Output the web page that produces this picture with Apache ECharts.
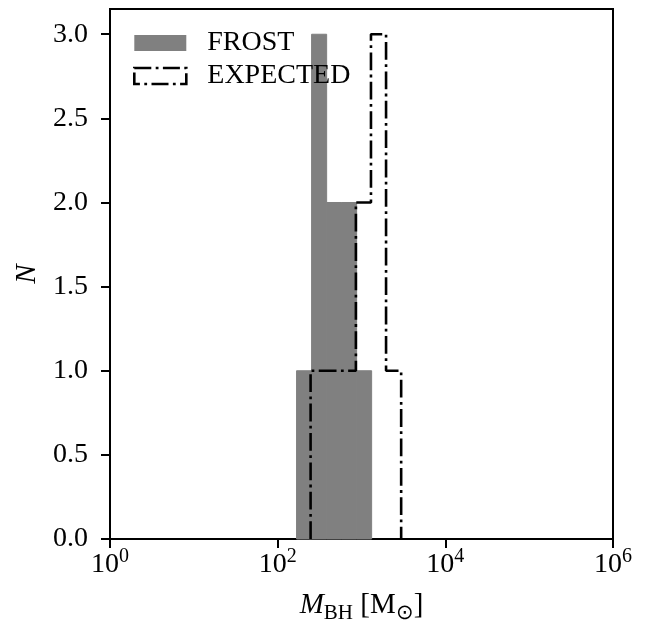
<!DOCTYPE html>
<html><head><meta charset="utf-8">
<script src="https://cdn.jsdelivr.net/npm/echarts@6/dist/echarts.min.js"></script>
<style>html,body{margin:0;padding:0;background:#fff}#c{width:648px;height:629px}</style>
</head><body><div id="c"></div>
<script>
// Histogram bin edges (M_BH in solar masses) and counts
const frostEdges = [168, 254, 384, 579, 875, 1321];
const frostCounts = [1, 3, 2, 2, 1];
const expectedEdges = [247, 374, 566, 857, 1297, 1963, 2972];
const expectedCounts = [1, 1, 1, 2, 3, 1];
const xTickValues = [1, 100, 10000, 1000000];
const yTickValues = [0, 0.5, 1, 1.5, 2, 2.5, 3];

const FONT = 'Liberation Serif';
const frostData = frostCounts.map((c, i) => [frostEdges[i], frostEdges[i + 1], c]);
const expectedPath = [[expectedEdges[0], 0]];
expectedCounts.forEach((c, i) => {
  expectedPath.push([expectedEdges[i], c]);
  expectedPath.push([expectedEdges[i + 1], c]);
});
expectedPath.push([expectedEdges[expectedEdges.length - 1], 0]);

const chart = echarts.init(document.getElementById('c'), null, {renderer: 'canvas'});
chart.setOption({
  animation: false,
  backgroundColor: '#fff',
  grid: {left: 110, right: 35, top: 9, bottom: 87, show: true, borderColor: '#000', borderWidth: 2, backgroundColor: 'transparent'},
  legend: {
    orient: 'vertical', left: 128, top: 24, itemWidth: 52, itemHeight: 16, itemGap: 5,
    textStyle: {fontFamily: FONT, fontSize: 28, lineHeight: 28, color: '#000', padding: [0, 0, 0, 16]},
    data: [
      {name: 'FROST', icon: 'rect', itemStyle: {color: '#808080', borderWidth: 0}},
      {name: 'EXPECTED', icon: 'rect', itemStyle: {color: 'rgba(0,0,0,0)', borderColor: '#000', borderWidth: 2.6, borderType: [17, 4.4, 2.8, 4.4]}}
    ]
  },
  xAxis: {
    type: 'log', logBase: 10, min: 1, max: 1000000,
    axisLine: {show: true, onZero: false, lineStyle: {color: '#000', width: 2}},
    axisTick: {show: true, length: 9, customValues: xTickValues, lineStyle: {color: '#000', width: 2}},
    splitLine: {show: false},
    minorTick: {show: false},
    axisLabel: {
      customValues: xTickValues, margin: 8, color: '#000',
      formatter: v => '{b|10}{s|' + Math.round(Math.log10(v)) + '}',
      rich: {
        b: {fontFamily: FONT, fontSize: 28, lineHeight: 36, color: '#000', verticalAlign: 'middle'},
        s: {fontFamily: FONT, fontSize: 20, lineHeight: 20, color: '#000', verticalAlign: 'top'}
      }
    },
    name: '{i|M}{sub|BH}{n| [M}{sub|⊙}{n|]}',
    nameLocation: 'middle', nameGap: 47,
    nameTextStyle: {
      rich: {
        i: {fontFamily: FONT, fontStyle: 'italic', fontSize: 29, lineHeight: 38, color: '#000', verticalAlign: 'middle'},
        n: {fontFamily: FONT, fontSize: 29, lineHeight: 38, color: '#000', verticalAlign: 'middle'},
        sub: {fontFamily: FONT, fontSize: 21, lineHeight: 21, color: '#000', verticalAlign: 'bottom'}
      }
    }
  },
  yAxis: {
    type: 'value', min: 0, max: 3.15,
    axisLine: {show: true, lineStyle: {color: '#000', width: 2}},
    axisTick: {show: true, length: 9, customValues: yTickValues, lineStyle: {color: '#000', width: 2}},
    splitLine: {show: false},
    axisLabel: {customValues: yTickValues, margin: 22, fontFamily: FONT, fontSize: 28, color: '#000', formatter: v => v.toFixed(1)},
    name: 'N', nameLocation: 'middle', nameGap: 66,
    nameTextStyle: {fontFamily: FONT, fontStyle: 'italic', fontSize: 29, color: '#000'}
  },
  series: [
    {
      name: 'FROST', type: 'custom', data: frostData,
      encode: {x: [0, 1], y: 2},
      itemStyle: {color: '#808080'},
      renderItem: (params, api) => {
        const p0 = api.coord([api.value(0), api.value(2)]);
        const p1 = api.coord([api.value(1), 0]);
        return {type: 'rect', shape: {x: p0[0], y: p0[1], width: p1[0] - p0[0], height: p1[1] - p0[1]},
          style: {fill: '#808080', stroke: '#808080', lineWidth: 1}};
      },
      z: 2
    },
    {
      name: 'EXPECTED', type: 'line', data: expectedPath, symbol: 'none',
      lineStyle: {color: '#000', width: 2.6, type: [17.8, 4.4, 2.8, 4.4]},
      itemStyle: {color: '#000'},
      z: 3
    }
  ]
});
</script></body></html>
